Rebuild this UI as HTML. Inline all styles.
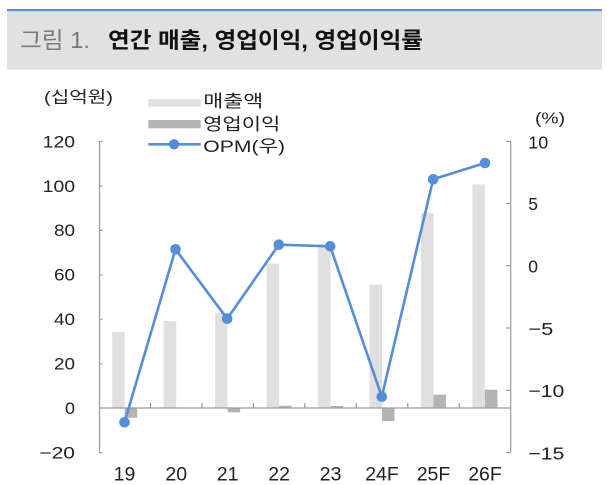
<!DOCTYPE html>
<html>
<head>
<meta charset="utf-8">
<style>
html,body{margin:0;padding:0;background:#fff;}
svg{display:block;}
text{font-family:"Liberation Sans","Noto Sans CJK KR",sans-serif;}
</style>
</head>
<body>
<svg width="609" height="485" viewBox="0 0 609 485" xmlns="http://www.w3.org/2000/svg">
  <!-- header -->
  <rect x="7" y="11" width="595" height="58.5" fill="#e1e1e1"/>
  <rect x="7" y="9" width="595" height="2.2" fill="#5b8fd6"/>
  <text x="20" y="48" font-size="23" fill="#7a7a7a" textLength="70" lengthAdjust="spacingAndGlyphs">그림 1.</text>
  <text x="108" y="48" font-size="22" font-weight="bold" fill="#111" textLength="315" lengthAdjust="spacingAndGlyphs">연간 매출, 영업이익, 영업이익률</text>

  <!-- unit labels -->
  <text x="44" y="102.5" font-size="16" fill="#222" textLength="69" lengthAdjust="spacingAndGlyphs">(십억원)</text>
  <text x="535" y="123.5" font-size="16" fill="#222" textLength="30" lengthAdjust="spacingAndGlyphs">(%)</text>

  <!-- legend -->
  <rect x="148.3" y="99" width="52.4" height="7.7" fill="#e0e0e0"/>
  <text x="203.3" y="106.8" font-size="17" fill="#222" textLength="60" lengthAdjust="spacingAndGlyphs">매출액</text>
  <rect x="148.3" y="120" width="52.4" height="8.3" fill="#b4b4b4"/>
  <text x="203.3" y="130" font-size="17" fill="#222" textLength="77" lengthAdjust="spacingAndGlyphs">영업이익</text>
  <line x1="148.3" y1="144.3" x2="200.7" y2="144.3" stroke="#558ed8" stroke-width="2.6"/>
  <circle cx="174" cy="144.3" r="5.2" fill="#558ed8"/>
  <text x="203.3" y="152" font-size="17" fill="#222" textLength="81.7" lengthAdjust="spacingAndGlyphs">OPM(우)</text>

  <!-- revenue bars -->
  <g fill="#e0e0e0">
    <rect x="112.2" y="332.0" width="12.5" height="76.2"/>
    <rect x="163.7" y="321.1" width="12.5" height="87.1"/>
    <rect x="215.15" y="313.1" width="12.5" height="95.1"/>
    <rect x="266.6" y="263.7" width="12.5" height="144.5"/>
    <rect x="318.1" y="246.4" width="12.5" height="161.8"/>
    <rect x="369.5" y="284.6" width="12.5" height="123.6"/>
    <rect x="421.0" y="213.0" width="12.5" height="195.2"/>
    <rect x="472.5" y="184.3" width="12.5" height="223.9"/>
  </g>
  <!-- OP bars -->
  <g fill="#b4b4b4">
    <rect x="124.7" y="408.2" width="12.5" height="9.6"/>
    <rect x="176.2" y="407.5" width="12.5" height="0.7"/>
    <rect x="227.65" y="408.2" width="12.5" height="4.1"/>
    <rect x="279.1" y="405.7" width="12.5" height="2.5"/>
    <rect x="330.6" y="406.0" width="12.5" height="2.2"/>
    <rect x="382.0" y="408.2" width="12.5" height="12.9"/>
    <rect x="433.5" y="394.7" width="12.5" height="13.5"/>
    <rect x="485.0" y="389.7" width="12.5" height="18.5"/>
  </g>

  <!-- axes -->
  <g stroke="#9a9a9a" stroke-width="1.2" fill="none">
    <line x1="99.5" y1="141.5" x2="99.5" y2="452.7"/>
    <line x1="510.7" y1="141.3" x2="510.7" y2="452.7"/>
    <line x1="99.5" y1="408" x2="510.7" y2="408"/>
    <!-- left ticks -->
    <line x1="99.5" y1="141.5" x2="102.5" y2="141.5"/>
    <line x1="99.5" y1="186" x2="102.5" y2="186"/>
    <line x1="99.5" y1="230.4" x2="102.5" y2="230.4"/>
    <line x1="99.5" y1="274.9" x2="102.5" y2="274.9"/>
    <line x1="99.5" y1="319.3" x2="102.5" y2="319.3"/>
    <line x1="99.5" y1="363.8" x2="102.5" y2="363.8"/>
    <line x1="99.5" y1="452.7" x2="102.5" y2="452.7"/>
    <!-- right ticks -->
    <line x1="506.2" y1="141.3" x2="510.7" y2="141.3"/>
    <line x1="506.2" y1="203.4" x2="510.7" y2="203.4"/>
    <line x1="506.2" y1="265.7" x2="510.7" y2="265.7"/>
    <line x1="506.2" y1="328.0" x2="510.7" y2="328.0"/>
    <line x1="506.2" y1="390.3" x2="510.7" y2="390.3"/>
    <line x1="506.2" y1="452.6" x2="510.7" y2="452.6"/>
    <!-- x ticks -->
    <line x1="150.5" y1="403" x2="150.5" y2="408"/>
    <line x1="201.9" y1="403" x2="201.9" y2="408"/>
    <line x1="253.4" y1="403" x2="253.4" y2="408"/>
    <line x1="304.8" y1="403" x2="304.8" y2="408"/>
    <line x1="356.3" y1="403" x2="356.3" y2="408"/>
    <line x1="407.8" y1="403" x2="407.8" y2="408"/>
    <line x1="459.2" y1="403" x2="459.2" y2="408"/>
  </g>

  <!-- OPM line -->
  <polyline fill="none" stroke="#558ed8" stroke-width="2.6" stroke-linejoin="round"
    points="124.5,422.3 175.5,249.3 227.2,318.7 278.8,244.7 330.2,246.3 381.8,396.7 433.2,179.3 485,163"/>
  <g fill="#558ed8">
    <circle cx="124.5" cy="422.3" r="5.3"/>
    <circle cx="175.5" cy="249.3" r="5.3"/>
    <circle cx="227.2" cy="318.7" r="5.3"/>
    <circle cx="278.8" cy="244.7" r="5.3"/>
    <circle cx="330.2" cy="246.3" r="5.3"/>
    <circle cx="381.8" cy="396.7" r="5.3"/>
    <circle cx="433.2" cy="179.3" r="5.3"/>
    <circle cx="485" cy="163" r="5.3"/>
  </g>

  <!-- left tick labels -->
  <g font-size="16.5" fill="#222" text-anchor="end">
    <text x="75" y="147.3" textLength="32.3" lengthAdjust="spacingAndGlyphs">120</text>
    <text x="75" y="191.8" textLength="32.3" lengthAdjust="spacingAndGlyphs">100</text>
    <text x="75" y="236.2" textLength="21" lengthAdjust="spacingAndGlyphs">80</text>
    <text x="75" y="280.7" textLength="21" lengthAdjust="spacingAndGlyphs">60</text>
    <text x="75" y="325.1" textLength="21" lengthAdjust="spacingAndGlyphs">40</text>
    <text x="75" y="369.6" textLength="21" lengthAdjust="spacingAndGlyphs">20</text>
    <text x="75" y="414.0" textLength="10" lengthAdjust="spacingAndGlyphs">0</text>
    <text x="75" y="458.5" textLength="35.7" lengthAdjust="spacingAndGlyphs">−20</text>
  </g>

  <!-- right tick labels -->
  <g font-size="17.5" fill="#222">
    <text x="528.3" y="148.3" textLength="20" lengthAdjust="spacingAndGlyphs">10</text>
    <text x="528.3" y="210.2">5</text>
    <text x="528.3" y="272.5">0</text>
    <text x="528.3" y="334.8" textLength="25" lengthAdjust="spacingAndGlyphs">−5</text>
    <text x="528.3" y="397.1" textLength="36" lengthAdjust="spacingAndGlyphs">−10</text>
    <text x="528.3" y="459.4" textLength="36" lengthAdjust="spacingAndGlyphs">−15</text>
  </g>

  <!-- x labels -->
  <g font-size="19.5" fill="#222" text-anchor="middle">
    <text x="124.5" y="480.7">19</text>
    <text x="176.2" y="480.7">20</text>
    <text x="227.6" y="480.7">21</text>
    <text x="279.1" y="480.7">22</text>
    <text x="330.6" y="480.7">23</text>
    <text x="382.0" y="480.7">24F</text>
    <text x="433.5" y="480.7">25F</text>
    <text x="485.0" y="480.7">26F</text>
  </g>
</svg>
</body>
</html>
